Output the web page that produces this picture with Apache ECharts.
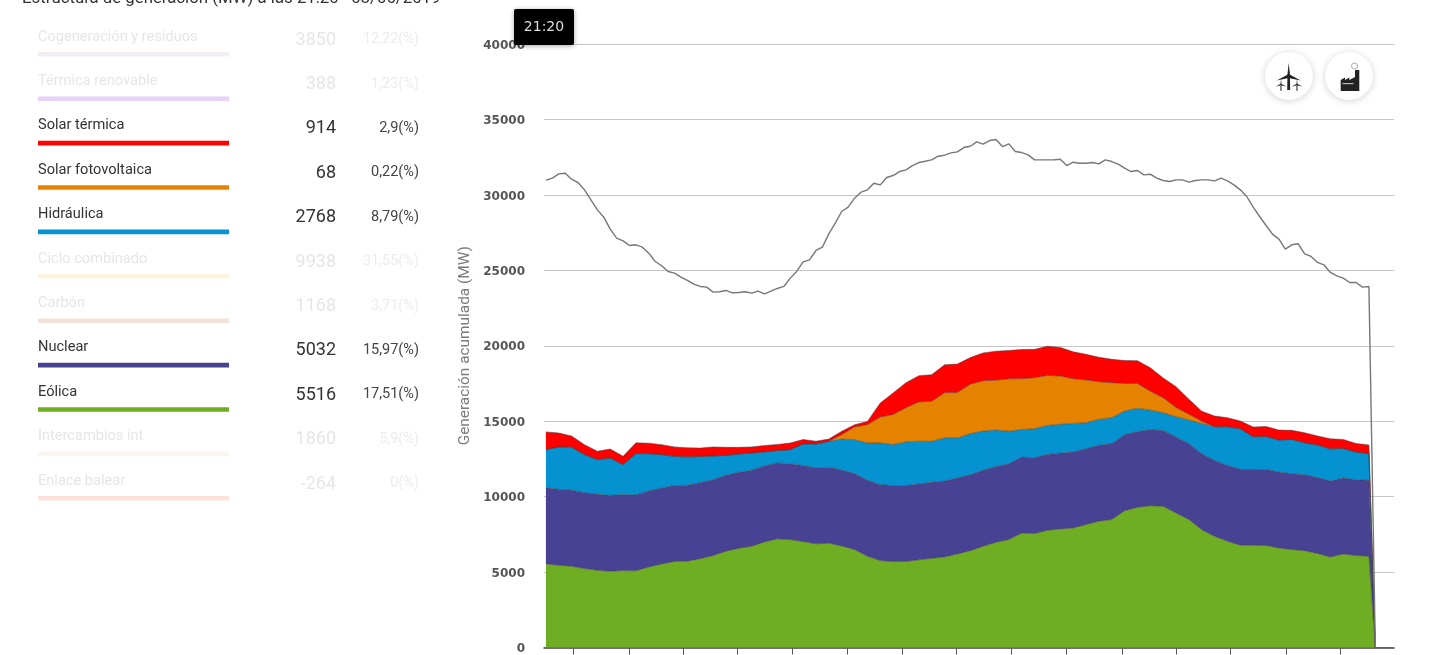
<!DOCTYPE html>
<html lang="es"><head><meta charset="utf-8">
<style>html,body{margin:0;padding:0;background:#fff;overflow:hidden}#c{width:1440px;height:655px}</style>
<script src="https://cdn.jsdelivr.net/npm/echarts@6/dist/echarts.min.js"></script>
</head><body><div id="c"></div>
<script>
const genMinutes=[0,20,40,60,80,100,120,140,160,180,200,220,240,260,280,300,320,340,360,380,400,420,440,460,480,500,520,540,560,580,600,620,640,660,680,700,720,740,760,780,800,820,840,860,880,900,920,940,960,980,1000,1020,1040,1060,1080,1100,1120,1140,1160,1180,1200,1220,1240,1260,1280,1290];
const eolica=[5540,5450,5390,5230,5120,5050,5100,5080,5340,5540,5700,5720,5890,6090,6380,6580,6710,7000,7200,7150,7020,6870,6910,6730,6490,6050,5760,5700,5700,5810,5910,6000,6200,6420,6710,6970,7150,7590,7550,7770,7860,7920,8150,8370,8480,9070,9290,9400,9360,8920,8480,7810,7370,7040,6780,6780,6760,6600,6490,6420,6230,6000,6200,6090,6050,0];
const nuclear=[5040,5040,5040,5035,5035,5035,5035,5035,5035,5035,5035,5035,5035,5035,5035,5035,5035,5035,5035,5035,5035,5035,5035,5035,5035,5035,5035,5035,5035,5035,5035,5035,5035,5035,5035,5030,5030,5030,5030,5030,5030,5030,5030,5030,5030,5030,5030,5030,5030,5030,5030,5030,5030,5030,5030,5032,5032,5032,5032,5032,5032,5032,5032,5032,5032,0];
const hidraulica=[2540,2800,2850,2520,2300,2470,1990,2740,2470,2210,1940,1880,1740,1570,1320,1210,1150,930,820,930,1440,1590,1720,2050,2250,2470,2760,2720,2890,2830,2720,2850,2650,2720,2600,2410,2160,1830,1920,1920,1900,1900,1720,1720,1720,1570,1540,1300,1170,1350,1570,2010,2230,2560,2690,2160,2190,2120,2270,2120,2160,2140,1960,1830,1770,0];
const fotovoltaica=[0,0,0,0,0,0,0,0,0,0,0,0,0,0,0,0,0,0,0,0,0,0,0,290,840,1210,1720,1990,2270,2600,2650,3000,3020,3270,3330,3310,3470,3360,3380,3310,3200,2960,2830,2490,2320,1830,1630,1260,990,600,380,150,0,0,0,0,0,0,0,0,0,0,0,0,0,0];
const termica=[1170,930,730,660,550,600,550,710,700,660,620,600,550,600,530,440,400,420,400,440,290,180,150,220,150,220,930,1430,1660,1740,1770,1850,1880,1770,1850,1920,1880,1940,1880,1940,1900,1790,1700,1630,1550,1520,1520,1550,1320,1390,990,660,710,600,510,640,660,660,600,660,600,660,600,570,570,0];
const demandStep=10;
const demanda=[30973,31106,31393,31437,31040,30819,30333,29670,29008,28522,27727,27131,26955,26645,26690,26535,26138,25586,25300,24923,24813,24548,24327,24084,23930,23885,23554,23576,23665,23510,23532,23576,23488,23620,23444,23620,23797,23930,24482,24923,25564,25696,26314,26535,27418,28125,28900,29184,29780,30178,30333,30774,30664,31150,31282,31547,31657,31944,32143,32231,32320,32563,32629,32783,32850,33137,33225,33512,33358,33600,33667,33203,33380,32872,32806,32651,32320,32320,32320,32320,32364,31944,32165,32099,32099,32143,32055,32320,32209,32033,31768,31548,31614,31327,31371,31106,30952,30885,30996,30996,30841,30952,30996,30996,30930,31106,30930,30665,30333,29892,29185,28567,27971,27397,27065,26403,26690,26757,26094,25917,25520,25365,24858,24637,24482,24195,24195,23886,23930,0];
const xTicks=[42,129,213,297,383,468,554,638,723,809,896,980,1065,1151,1236];
const legendNames=["Cogeneración y residuos","Térmica renovable","Solar térmica","Solar fotovoltaica","Hidráulica","Ciclo combinado","Carbón","Nuclear","Eólica","Intercambios int","Enlace balear"];
const legendValues=["3850","388","914","68","2768","9938","1168","5032","5516","1860","-264"];
const legendPercents=["12,22(%)","1,23(%)","2,9(%)","0,22(%)","8,79(%)","31,55(%)","3,71(%)","15,97(%)","17,51(%)","5,9(%)","0(%)"];
const legendActive=[false,false,true,true,true,false,false,true,true,false,false];
const legendColors=["#f1edf3","#e8d2f6","#ff0000","#e58300","#0492d0","#fdf3e0","#f3e1da","#484295","#6fae22","#f8f6ef","#fde1db"];
const titleText="Estructura de generación (MW) a las 21:20   08/06/2019";
const tooltipText="21:20";

const MS=60000;
const zip=(xs,ys)=>ys.map((v,i)=>[xs[i]*MS,v]);
const demandData=demanda.map((v,i)=>[i*demandStep*MS,v]);
const FONT="Roboto";
const area=(name,vals,color)=>({name,type:'line',stack:'gen',data:zip(genMinutes,vals),showSymbol:false,symbol:'none',
  lineStyle:{width:1,color:'rgba(70,60,60,.5)'},areaStyle:{color,opacity:1},itemStyle:{color},silent:true,z:2});

const g=[];
g.push({type:'text',x:22,y:-1,silent:true,style:{text:titleText,font:`16.8px ${FONT}`,fill:'#333',textVerticalAlign:'middle'}});
legendNames.forEach((n,i)=>{
  const y=36+i*44.4, on=legendActive[i];
  g.push({type:'text',x:38,y:y+1,silent:true,style:{text:n,font:`14.6px ${FONT}`,fill:on?'#333':'#e6e6e6',textVerticalAlign:'middle'}});
  g.push({type:'text',x:336,y:y+4,silent:true,style:{text:legendValues[i],font:`18px ${FONT}`,fill:on?'#333':'#e6e6e6',textAlign:'right',textVerticalAlign:'middle'}});
  g.push({type:'text',x:419,y:y+3.5,silent:true,style:{text:legendPercents[i],font:`14.5px ${FONT}`,fill:on?'#444':'#ececec',textAlign:'right',textVerticalAlign:'middle'}});
  g.push({type:'rect',silent:true,shape:{x:38,y:y+16,width:191,height:4.6},style:{fill:legendColors[i]}});
});
g.push({type:'rect',z:50,silent:true,shape:{x:514,y:9,width:60,height:36,r:2},style:{fill:'#000',shadowBlur:5,shadowColor:'rgba(0,0,0,.35)',shadowOffsetY:1}});
g.push({type:'text',z:51,silent:true,x:544,y:27.5,style:{text:tooltipText,font:'14px "DejaVu Sans"',fill:'#ddd',textAlign:'center',textVerticalAlign:'middle'}});
[1289,1349].forEach(cx=>g.push({type:'circle',z:40,silent:true,shape:{cx,cy:76,r:24},style:{fill:'#fff',shadowBlur:7,shadowColor:'rgba(0,0,0,.18)',shadowOffsetY:1}}));
const poly=(points,fill)=>g.push({type:'polygon',z:41,silent:true,shape:{points},style:{fill}});
const turbine=(x,y,s,fill)=>{
  poly([[x-1.4*s,y],[x,y-13*s],[x+1.4*s,y]],fill);
  poly([[x,y-2*s],[x-12*s,y+4.5*s],[x,y+2*s]],fill);
  poly([[x,y-2*s],[x+12*s,y+4.5*s],[x,y+2*s]],fill);
  poly([[x-1.2*s,y],[x+1.2*s,y],[x+1.5*s,y+14*s],[x-1.5*s,y+14*s]],fill);
};
turbine(1281,84.5,.45,'#444');turbine(1297,84.5,.45,'#444');turbine(1288.7,76,1,'#222');
poly([[1340.7,91],[1340.7,80],[1345,77.5],[1345,80],[1349.3,77.5],[1349.3,80],[1355,77],[1355,70],[1359.3,70],[1359.3,91]],'#222');
g.push({type:'rect',z:42,silent:true,shape:{x:1342.5,y:83,width:11,height:1.2},style:{fill:'#bbb'}});
g.push({type:'circle',z:41,silent:true,shape:{cx:1354.5,cy:66,r:3},style:{fill:'#fff',stroke:'#aaa',lineWidth:1}});

const chart=echarts.init(document.getElementById('c'),null,{renderer:'canvas'});
chart.setOption({
  animation:false,backgroundColor:'#fff',
  grid:{left:544,right:46,top:44,bottom:7,containLabel:false},
  xAxis:{type:'time',min:-3*MS,max:1319*MS,splitLine:{show:false},
    axisLine:{onZero:false,lineStyle:{color:'#444',width:1.5}},
    axisTick:{show:true,length:7,inside:false,customValues:xTicks.map(t=>t*MS),lineStyle:{color:'#555'}},
    axisLabel:{show:false}},
  yAxis:{type:'value',min:0,max:40000,interval:5000,
    name:'Generación acumulada (MW)',nameLocation:'middle',nameGap:65,nameRotate:90,
    nameTextStyle:{fontFamily:FONT,fontSize:15.4,color:'#7c7c7c'},
    axisLine:{show:false},axisTick:{show:false},
    axisLabel:{margin:19,formatter:v=>`{a|${v}}`,
      rich:{a:{padding:[3,0,0,0],fontFamily:'DejaVu Sans',fontWeight:'bold',fontSize:12,color:'#555'}}},
    splitLine:{lineStyle:{color:'#c6c6c6',width:1}}},
  series:[
    area('Eólica',eolica,'#6fae22'),
    area('Nuclear',nuclear,'#484295'),
    area('Hidráulica',hidraulica,'#0492d0'),
    area('Solar fotovoltaica',fotovoltaica,'#e58300'),
    area('Solar térmica',termica,'#ff0000'),
    {name:'Demanda',type:'line',data:demandData,showSymbol:false,symbol:'none',silent:true,z:3,
     lineStyle:{width:1.4,color:'#777'}}
  ],
  graphic:g
});
</script></body></html>
